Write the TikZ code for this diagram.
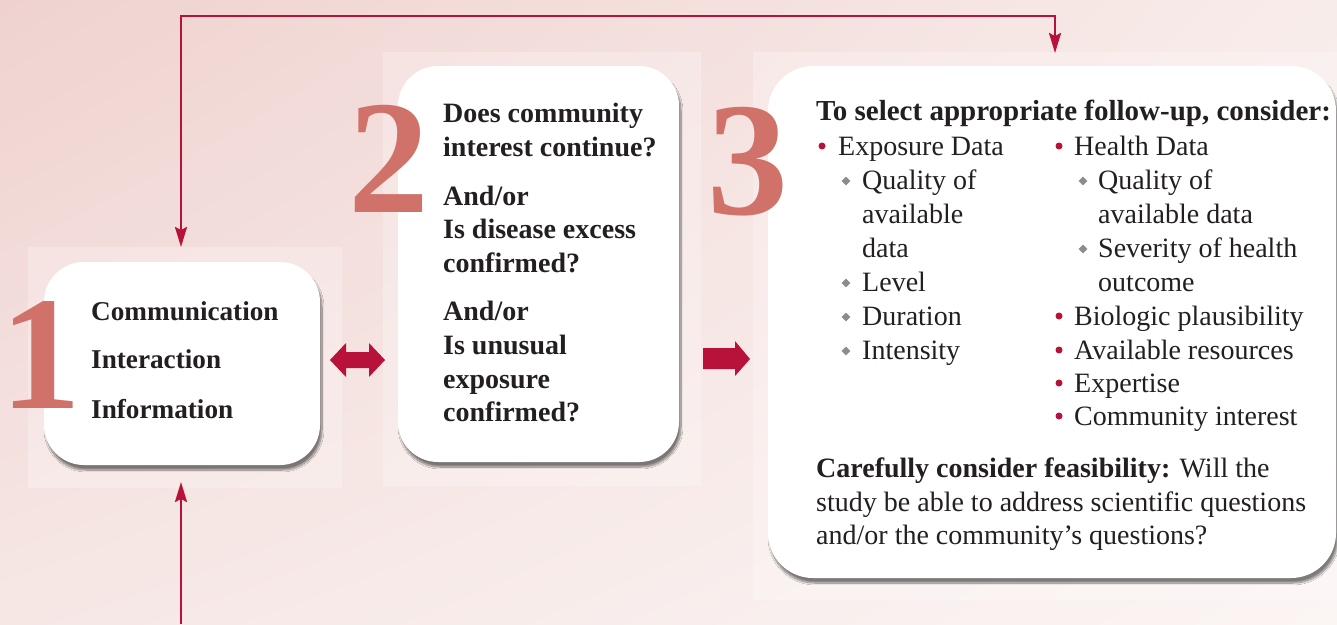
\documentclass[tikz,border=0pt]{standalone}
\usepackage{fontspec}
\setmainfont{Liberation Serif}
\usetikzlibrary{arrows.meta,shadows.blur,shadings,shapes.geometric}
\definecolor{crim}{HTML}{B8123A}
\definecolor{numc}{HTML}{D0716A}
\definecolor{ink}{HTML}{231F20}
\definecolor{dia}{HTML}{8C8C8C}
\definecolor{bgA}{HTML}{EFD2CF}
\definecolor{bgB}{HTML}{F8ECEA}
\definecolor{bgC}{HTML}{F6E7E5}
\definecolor{bgD}{HTML}{FBF5F4}
\tikzset{
  panel/.style={fill=white, fill opacity=0.25, draw=none},
  box/.style={fill=white, draw=none, rounded corners=40pt,
    blur shadow={shadow xshift=2pt, shadow yshift=-5pt, shadow blur steps=12, shadow opacity=50}},
  digit/.style={anchor=base, inner sep=0pt, text=numc, font=\fontsize{162}{162}\selectfont\bfseries},
  txt/.style={anchor=base west, inner sep=0pt, text=ink, font=\fontsize{28}{34}\selectfont},
  btxt/.style={txt, font=\fontsize{28}{34}\selectfont\bfseries},
  big/.style={txt, font=\fontsize{29}{34}\selectfont\bfseries},
  onetxt/.style={txt, font=\fontsize{27.2}{34}\selectfont\bfseries},
  conn/.style={draw=crim, line width=2.6pt, arrows={-Stealth[length=20pt, width=12pt, inset=3pt]}},
  blockarrow/.style={fill=crim, draw=none},
  rdot/.style={circle, fill=crim, inner sep=0pt, minimum size=7pt},
  gdia/.style={diamond, fill=dia, inner sep=0pt, minimum size=9pt}
}
\begin{document}
\begin{tikzpicture}[x=1pt,y=-1pt]
\useasboundingbox (0,0) rectangle (1337,624);
\shade[upper left=bgA, upper right=bgB, lower left=bgC, lower right=bgD] (0,0) rectangle (1337,624);
% panels
\path[panel] (28,247) rectangle (342,488);
\path[panel] (383,52) rectangle (701,486);
\path[panel] (753,52) rectangle (1337,600);
% boxes
\node[box, minimum width=276pt, minimum height=203pt] (b1) at (182,363.5) {};
\node[box, minimum width=281pt, minimum height=396pt] (b2) at (538.5,264) {};
\node[box, rounded corners=45pt, minimum width=568pt, minimum height=512pt] (b3) at (1052,322) {};
% digits
\node[digit] (n1) at (41,408) {1};
\node[digit] (n2) at (389,212) {2};
\node[digit] (n3) at (748,214) {3};
% box 1 text
\node[onetxt] (c1) at (91,320) {Communication};
\node[onetxt] (c2) at (91,368) {Interaction};
\node[onetxt] (c3) at (91,418) {Information};
% box 2 text
\node[btxt] (q1) at (443,122) {Does community};
\node[btxt] (q2) at (443,156) {interest continue?};
\node[btxt] (q3) at (443,205) {And/or};
\node[btxt] (q4) at (443,238) {Is disease excess};
\node[btxt] (q5) at (443,272) {confirmed?};
\node[btxt] (q6) at (443,320) {And/or};
\node[btxt] (q7) at (443,354) {Is unusual};
\node[btxt] (q8) at (443,388) {exposure};
\node[btxt] (q9) at (443,421) {confirmed?};
% box 3 text
\node[big] (h0) at (816,120) {To select appropriate follow-up, consider:};
\node[rdot] (d1) at (822,146) {};
\node[txt] (l1) at (838,155) {Exposure Data};
\node[gdia] (g1) at (846,181) {};
\node[txt] (l2) at (862,189) {Quality of};
\node[txt] (l3) at (862,223) {available};
\node[txt] (l4) at (862,257) {data};
\node[gdia] (g2) at (846,283) {};
\node[txt] (l5) at (862,291) {Level};
\node[gdia] (g3) at (846,317) {};
\node[txt] (l6) at (862,325) {Duration};
\node[gdia] (g4) at (846,351) {};
\node[txt] (l7) at (862,359) {Intensity};
\node[rdot] (d2) at (1059,146) {};
\node[txt] (r1) at (1074,155) {Health Data};
\node[gdia] (g5) at (1083,181) {};
\node[txt] (r2) at (1098,189) {Quality of};
\node[txt] (r3) at (1098,223) {available data};
\node[gdia] (g6) at (1083,249) {};
\node[txt] (r4) at (1098,257) {Severity of health};
\node[txt] (r5) at (1098,291) {outcome};
\node[rdot] (d3) at (1059,316) {};
\node[txt] (r6) at (1074,325) {Biologic plausibility};
\node[rdot] (d4) at (1059,350) {};
\node[txt] (r7) at (1074,359) {Available resources};
\node[rdot] (d5) at (1059,383) {};
\node[txt] (r8) at (1074,392) {Expertise};
\node[rdot] (d6) at (1059,416) {};
\node[txt] (r9) at (1074,425) {Community interest};
\node[txt] (f1) at (816,477) {\textbf{Carefully consider feasibility:} Will the};
\node[txt] (f2) at (816,511) {study be able to address scientific questions};
\node[txt] (f3) at (816,544) {and/or the community’s questions?};
% connectors
\coordinate (a1) at (181,247);
\coordinate (a3) at (1055,53);
\coordinate (topy) at (0,16);
\draw[conn, {Stealth[length=20pt, width=12pt, inset=3pt]}-{Stealth[length=20pt, width=12pt, inset=3pt]}] (a1) -- (a1 |- topy) -| (a3);
\coordinate (bot) at (181,624);
\coordinate (a1b) at (181,482);
\draw[conn] (bot) -- (a1b);
% block arrows
\fill[blockarrow] (330,360) -- (346,343) -- (346,352) -- (369,352) -- (369,343) -- (385,360) -- (369,377) -- (369,368) -- (346,368) -- (346,377) -- cycle;
\fill[blockarrow] (703,348) -- (735,348) -- (735,341) -- (750,359) -- (735,376) -- (735,369) -- (703,369) -- cycle;
\end{tikzpicture}
\end{document}
